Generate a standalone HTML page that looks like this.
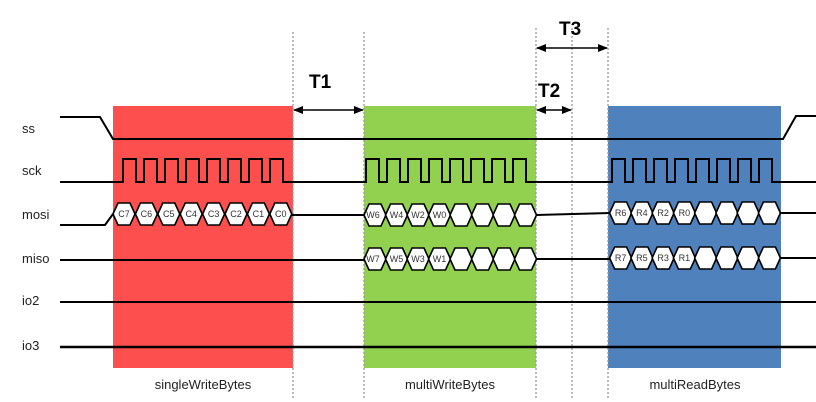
<!DOCTYPE html>
<html><head><meta charset="utf-8"><style>
html,body{margin:0;padding:0;background:#fff;width:816px;height:402px;overflow:hidden}
svg{display:block}
text{font-family:"Liberation Sans",sans-serif}
</style></head><body>
<svg width="816" height="402" viewBox="0 0 816 402" xmlns="http://www.w3.org/2000/svg">
<defs>
<polygon id="hx" points="-11,0 -6,-11 6,-11 11,0 6,11 -6,11" fill="#fff" stroke="#000" stroke-width="1.6"/>
<marker id="ah" markerWidth="10" markerHeight="10" refX="9" refY="5" orient="auto-start-reverse" markerUnits="userSpaceOnUse"><path d="M0,1 L10,5 L0,9 z" fill="#000"/></marker>
</defs>
<rect x="113" y="106" width="180" height="262" fill="#fe4f4f"/>
<rect x="364" y="106" width="172" height="262" fill="#92d050"/>
<rect x="608" y="106" width="173" height="262" fill="#4f81bd"/>
<g stroke="#999" stroke-width="1.3" stroke-dasharray="2,2">
<line x1="293" y1="32" x2="293" y2="400"/><line x1="364" y1="32" x2="364" y2="400"/>
<line x1="536" y1="28" x2="536" y2="400"/><line x1="572" y1="28" x2="572" y2="400"/><line x1="608" y1="28" x2="608" y2="400"/>
</g>
<g stroke="#000" stroke-width="1.5" marker-start="url(#ah)" marker-end="url(#ah)">
<line x1="294" y1="110" x2="363" y2="110"/><line x1="537" y1="110" x2="571" y2="110"/><line x1="537" y1="48" x2="607" y2="48"/>
</g>
<g font-weight="bold" font-size="19" fill="#000">
<text x="309" y="88">T1</text><text x="538" y="97">T2</text><text x="559" y="35">T3</text>
</g>
<g fill="none" stroke="#000" stroke-width="2">
<path d="M60 117 H100 L113 139 H783 L796 116 H816"/>
<path d="M60 182 H123 v-23 h13 v23 h8 v-23 h13 v23 h8 v-23 h13 v23 h8 v-23 h13 v23 h8 v-23 h13 v23 h8 v-23 h13 v23 h8 v-23 h13 v23 h8 v-23 h13 v23 H366 v-23 h13 v23 h8 v-23 h13 v23 h8 v-23 h13 v23 h8 v-23 h13 v23 h8 v-23 h13 v23 h8 v-23 h13 v23 h8 v-23 h13 v23 h8 v-23 h13 v23 H612 v-23 h13 v23 h8 v-23 h13 v23 h8 v-23 h13 v23 h8 v-23 h13 v23 h8 v-23 h13 v23 h8 v-23 h13 v23 h8 v-23 h13 v23 h8 v-23 h13 v23 H816"/>
<path d="M60 225 H105 L113 214 M292 215 H364 M536 215 L610 213 M780 213 H816"/>
<path d="M60 260 H364 M536 259 H610 M780 258 H816"/>
<path d="M60 302 H816"/>
<path d="M60 347 H816" stroke-width="2.6"/>
</g>
<g>
<use href="#hx" x="124" y="214"/><use href="#hx" x="146.4" y="214"/><use href="#hx" x="168.8" y="214"/><use href="#hx" x="191.2" y="214"/><use href="#hx" x="213.6" y="214"/><use href="#hx" x="236" y="214"/><use href="#hx" x="258.4" y="214"/><use href="#hx" x="280.8" y="214"/>
<use href="#hx" x="375" y="215"/><use href="#hx" x="396.5" y="215"/><use href="#hx" x="418" y="215"/><use href="#hx" x="439.5" y="215"/><use href="#hx" x="461" y="215"/><use href="#hx" x="482.5" y="215"/><use href="#hx" x="504" y="215"/><use href="#hx" x="525.5" y="215"/>
<use href="#hx" x="375" y="259"/><use href="#hx" x="396.5" y="259"/><use href="#hx" x="418" y="259"/><use href="#hx" x="439.5" y="259"/><use href="#hx" x="461" y="259"/><use href="#hx" x="482.5" y="259"/><use href="#hx" x="504" y="259"/><use href="#hx" x="525.5" y="259"/>
<use href="#hx" x="620.6" y="213"/><use href="#hx" x="641.9" y="213"/><use href="#hx" x="663.1" y="213"/><use href="#hx" x="684.4" y="213"/><use href="#hx" x="705.6" y="213"/><use href="#hx" x="726.9" y="213"/><use href="#hx" x="748.1" y="213"/><use href="#hx" x="769.4" y="213"/>
<use href="#hx" x="620.6" y="258"/><use href="#hx" x="641.9" y="258"/><use href="#hx" x="663.1" y="258"/><use href="#hx" x="684.4" y="258"/><use href="#hx" x="705.6" y="258"/><use href="#hx" x="726.9" y="258"/><use href="#hx" x="748.1" y="258"/><use href="#hx" x="769.4" y="258"/>
</g>
<g font-size="9" fill="#333" text-anchor="middle">
<text x="124" y="217">C7</text><text x="146.4" y="217">C6</text><text x="168.8" y="217">C5</text><text x="191.2" y="217">C4</text><text x="213.6" y="217">C3</text><text x="236" y="217">C2</text><text x="258.4" y="217">C1</text><text x="280.8" y="217">C0</text>
<text x="373" y="218">W6</text><text x="396.5" y="218">W4</text><text x="418" y="218">W2</text><text x="439.5" y="218">W0</text>
<text x="373" y="262">W7</text><text x="396.5" y="262">W5</text><text x="418" y="262">W3</text><text x="439.5" y="262">W1</text>
<text x="620.6" y="216">R6</text><text x="641.9" y="216">R4</text><text x="663.1" y="216">R2</text><text x="684.4" y="216">R0</text>
<text x="620.6" y="261">R7</text><text x="641.9" y="261">R5</text><text x="663.1" y="261">R3</text><text x="684.4" y="261">R1</text>
</g>
<g font-size="13" fill="#222">
<text x="22" y="133">ss</text><text x="22" y="175">sck</text><text x="22" y="219">mosi</text><text x="22" y="263">miso</text><text x="22" y="305">io2</text><text x="22" y="350">io3</text>
</g>
<g font-size="13" fill="#222" text-anchor="middle">
<text x="203" y="389">singleWriteBytes</text><text x="450" y="389">multiWriteBytes</text><text x="695" y="389">multiReadBytes</text>
</g>
</svg>
</body></html>
